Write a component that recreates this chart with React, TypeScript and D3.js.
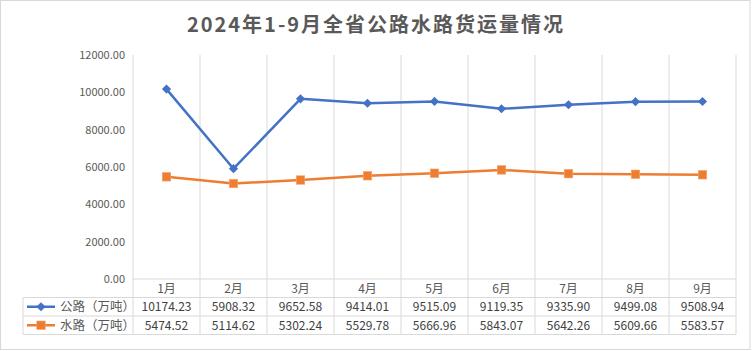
import React, { useEffect } from "react";
import * as d3 from "d3";

const width = 752;
const height = 351;
const margin = { top: 55, right: 16, bottom: 72, left: 133 };
const tableLeft = 23;
const rowH = 18.5;

const months = ["1月", "2月", "3月", "4月", "5月", "6月", "7月", "8月", "9月"];
const roadValues = [10174.23, 5908.32, 9652.58, 9414.01, 9515.09, 9119.35, 9335.9, 9499.08, 9508.94];
const waterValues = [5474.52, 5114.62, 5302.24, 5529.78, 5666.96, 5843.07, 5642.26, 5609.66, 5583.57];
const yTicks = [0, 2000, 4000, 6000, 8000, 10000, 12000];

const series = [
  { name: "公路（万吨）", values: roadValues, color: "#4472C4", marker: "diamond" },
  { name: "水路（万吨）", values: waterValues, color: "#ED7D31", marker: "square" },
];

const font = "'Noto Sans CJK SC', 'Noto Sans', sans-serif";
const grid = "#d9d9d9";
const textColor = "#595959";

function Marker({ x, y, type, color }: { x: number; y: number; type: string; color: string }) {
  if (type === "diamond") {
    const r = 4.6;
    return <path d={`M${x},${y - r}L${x + r},${y}L${x},${y + r}L${x - r},${y}Z`} fill={color} />;
  }
  const s = 8.5;
  return <rect x={x - s / 2} y={y - s / 2} width={s} height={s} fill={color} stroke="#f4a672" strokeWidth={0.6} />;
}

export default function App() {
  useEffect(() => {
    document.body.style.margin = "0";
  }, []);

  const plotBottom = height - margin.bottom; // 279
  const plotRight = width - margin.right;

  const x = d3.scaleBand<string>().domain(months).range([margin.left, plotRight]);
  const y = d3.scaleLinear().domain([0, 12000]).range([plotBottom, margin.top]);

  const line = d3
    .line<number>()
    .x((_, i) => x(months[i])! + x.bandwidth() / 2)
    .y((d) => y(d));

  const tableBottom = plotBottom + rowH * 3;
  const fmt = d3.format(".2f");

  return (
    <svg width={width} height={height} style={{ display: "block", fontFamily: font }}>
      <rect x={0.5} y={0.5} width={width - 2.5} height={height - 2} fill="#fff" stroke={grid} />
      <text
        x={width / 2}
        y={32}
        textAnchor="middle"
        fontSize={20}
        fontWeight="bold"
        fill={textColor}
        letterSpacing={2}
      >
        2024年1-9月全省公路水路货运量情况
      </text>

      {/* vertical grid lines through plot and table */}
      {months.map((m) => (
        <line key={m} x1={x(m)!} x2={x(m)!} y1={margin.top} y2={tableBottom} stroke={grid} />
      ))}
      <line x1={plotRight} x2={plotRight} y1={margin.top} y2={tableBottom} stroke={grid} />

      {/* axis + table rows */}
      <line x1={margin.left} x2={plotRight} y1={plotBottom} y2={plotBottom} stroke={grid} />
      {[1, 2, 3].map((r) => (
        <line key={r} x1={tableLeft} x2={plotRight} y1={plotBottom + rowH * r} y2={plotBottom + rowH * r} stroke={grid} />
      ))}
      <line x1={tableLeft} x2={tableLeft} y1={plotBottom + rowH} y2={tableBottom} stroke={grid} />

      {/* y axis labels */}
      {yTicks.map((t) => (
        <text key={t} x={125} y={y(t)} dy="0.35em" textAnchor="end" fontSize={11} fill={textColor}>
          {fmt(t)}
        </text>
      ))}

      {/* month header */}
      {months.map((m) => (
        <text key={m} x={x(m)! + x.bandwidth() / 2} y={plotBottom + rowH / 2} dy="0.36em" textAnchor="middle" fontSize={12} fill={textColor}>
          {m}
        </text>
      ))}

      {series.map((s, si) => {
        const cy = plotBottom + rowH * (si + 1.5);
        return (
          <g key={s.name}>
            <path d={line(s.values)!} fill="none" stroke={s.color} strokeWidth={2.5} strokeLinejoin="round" />
            {s.values.map((v, i) => (
              <Marker key={i} x={x(months[i])! + x.bandwidth() / 2} y={y(v)} type={s.marker} color={s.color} />
            ))}
            <line x1={27} x2={55} y1={cy} y2={cy} stroke={s.color} strokeWidth={2.5} />
            <Marker x={41} y={cy} type={s.marker} color={s.color} />
            <text x={60} y={cy} dy="0.36em" fontSize={12.5} fill={textColor}>
              {s.name}
            </text>
            {s.values.map((v, i) => (
              <text key={i} x={x(months[i])! + x.bandwidth() / 2} y={cy} dy="0.36em" textAnchor="middle" fontSize={12} fill="#404040">
                {fmt(v)}
              </text>
            ))}
          </g>
        );
      })}
    </svg>
  );
}
